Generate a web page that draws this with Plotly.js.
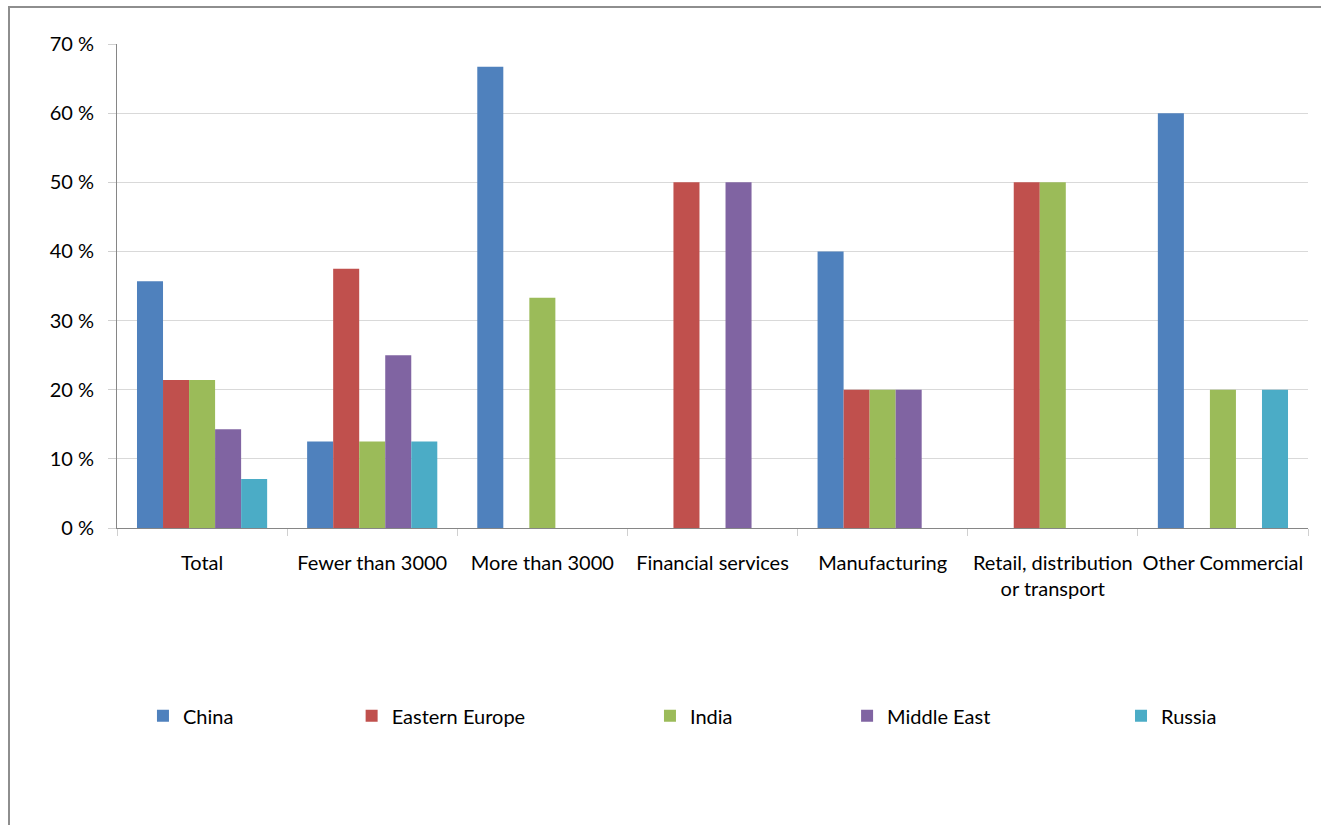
<!DOCTYPE html>
<html><head><meta charset="utf-8">
<script src="https://cdn.plot.ly/plotly-3.0.1.min.js"></script>
<style>
html,body{margin:0;padding:0;background:#fff;}
#wrap{position:relative;width:1321px;height:825px;overflow:hidden;}
#chart{width:1321px;height:825px;}
#frame{position:absolute;left:8px;top:6px;width:1400px;height:900px;border-left:2px solid #8e8e8e;border-top:2px solid #8e8e8e;pointer-events:none;}
</style></head>
<body><div id="wrap"><div id="chart"></div><div id="frame"></div></div>
<script>
const categories = ["Total","Fewer than 3000","More than 3000","Financial services","Manufacturing","Retail, distribution<br>or transport","Other Commercial"];
const seriesNames = ["China","Eastern Europe","India","Middle East","Russia"];
const china        = [35.7, 12.5, 66.7, 0,  40, 0,  60];
const easternEurope= [21.4, 37.5, 0,    50, 20, 50, 0];
const india        = [21.4, 12.5, 33.3, 0,  20, 50, 20];
const middleEast   = [14.3, 25.0, 0,    50, 20, 0,  0];
const russia       = [7.1,  12.5, 0,    0,  0,  0,  20];
const yTicks = [0,10,20,30,40,50,60,70];
const yTickText = yTicks.map(v => v + " %");

const colors = ["#4F81BD","#C0504D","#9BBB59","#8064A2","#4BACC6"];
const values = [china, easternEurope, india, middleEast, russia];
const legendIds = ["legend","legend2","legend3","legend4","legend5"];
const legendX = [0.0218, 0.197, 0.4475, 0.613, 0.843];
const font = {family:"Lato, 'Liberation Sans', sans-serif", size:20, color:"#000"};

const traces = values.map((v,i)=>({
  type:"bar", name:seriesNames[i], x:categories, y:v,
  marker:{color:colors[i], line:{width:0}},
  legend: legendIds[i], hoverinfo:"skip"
}));

const layout = {
  width:1321, height:825,
  margin:{l:117, r:13, t:44, b:297},
  paper_bgcolor:"#fff", plot_bgcolor:"#fff",
  font:font,
  barmode:"group", bargap:0.235, bargroupgap:0,
  xaxis:{type:"category", tickson:"boundaries", ticks:"outside", ticklen:7, tickcolor:"#d0d0d0",
         showline:true, linecolor:"#868686", linewidth:1, showgrid:false, tickfont:font,
         ticklabelstandoff:17},
  yaxis:{range:[0,70], tickmode:"array", tickvals:yTicks, ticktext:yTickText, ticks:"outside", ticklen:8, tickcolor:"#d0d0d0",
         showline:true, linecolor:"#868686", linewidth:1, gridcolor:"#d9d9d9", zeroline:false,
         tickfont:font, fixedrange:true, ticklabelstandoff:10},
  showlegend:true
};
legendIds.forEach((id,i)=>{
  layout[id] = {orientation:"h", x:legendX[i], xanchor:"left", y:-0.388, yanchor:"middle",
                font:font, bgcolor:"rgba(0,0,0,0)"};
});
Plotly.newPlot("chart", traces, layout, {displayModeBar:false, staticPlot:true});
</script></body></html>
